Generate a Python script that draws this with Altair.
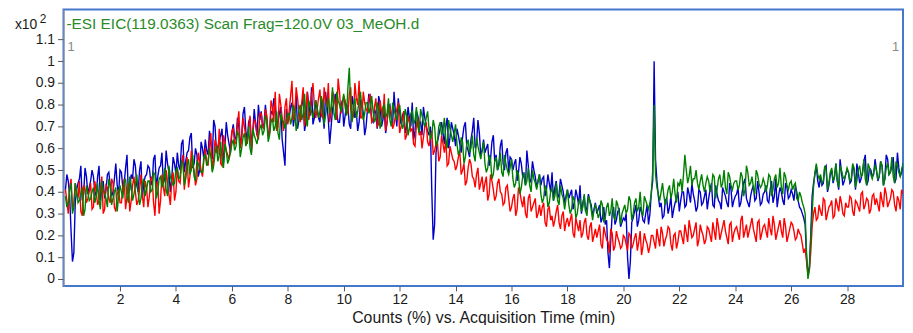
import altair as alt
import pandas as pd

# Values in units of x10^2 counts.
# *_a: one per 0.1 min at 0.1, 0.2, ... 30.0 min
# *_b: one per 0.1 min at 0.05, 0.15, ... 29.95 min
red_a = [
    0.36, 0.42, 0.33, 0.44, 0.37, 0.31, 0.43, 0.35, 0.40, 0.32,
    0.45, 0.34, 0.41, 0.30, 0.43, 0.37, 0.46, 0.33, 0.39, 0.35,
    0.42, 0.32, 0.44, 0.36, 0.47, 0.34, 0.41, 0.38, 0.45, 0.33,
    0.46, 0.35, 0.43, 0.30, 0.48, 0.38, 0.44, 0.34, 0.49, 0.40,
    0.45, 0.53, 0.41, 0.56, 0.47, 0.52, 0.43, 0.58, 0.50, 0.55,
    0.54, 0.62, 0.50, 0.64, 0.57, 0.53, 0.66, 0.59, 0.55, 0.68,
    0.62, 0.71, 0.60, 0.74, 0.65, 0.69, 0.58, 0.73, 0.66, 0.76,
    0.70, 0.78, 0.66, 0.82, 0.72, 0.68, 0.85, 0.74, 0.79, 0.71,
    0.84, 0.73, 0.88, 0.76, 0.81, 0.70, 0.86, 0.77, 0.90, 0.74,
    0.83, 0.75, 0.88, 0.79, 0.72, 0.86, 0.80, 0.92, 0.76, 0.84,
    0.77, 0.85, 0.73, 0.90, 0.80, 0.74, 0.86, 0.78, 0.83, 0.72,
    0.79, 0.70, 0.82, 0.74, 0.68, 0.80, 0.76, 0.71, 0.78, 0.67,
    0.73, 0.64, 0.75, 0.68, 0.62, 0.71, 0.66, 0.60, 0.70, 0.63,
    0.65, 0.57, 0.62, 0.54, 0.66, 0.58, 0.52, 0.61, 0.55, 0.50,
    0.56, 0.48, 0.53, 0.45, 0.55, 0.47, 0.42, 0.51, 0.44, 0.40,
    0.47, 0.39, 0.45, 0.36, 0.44, 0.40, 0.34, 0.42, 0.37, 0.33,
    0.39, 0.32, 0.40, 0.33, 0.30, 0.37, 0.31, 0.35, 0.28, 0.34,
    0.33, 0.26, 0.32, 0.27, 0.24, 0.31, 0.26, 0.29, 0.22, 0.28,
    0.27, 0.21, 0.28, 0.22, 0.19, 0.26, 0.20, 0.24, 0.17, 0.23,
    0.22, 0.16, 0.24, 0.18, 0.12, 0.21, 0.15, 0.19, 0.14, 0.20,
    0.16, 0.21, 0.14, 0.19, 0.13, 0.22, 0.15, 0.18, 0.12, 0.20,
    0.17, 0.23, 0.15, 0.21, 0.18, 0.24, 0.16, 0.20, 0.14, 0.22,
    0.19, 0.25, 0.17, 0.23, 0.20, 0.26, 0.18, 0.22, 0.16, 0.24,
    0.20, 0.26, 0.18, 0.24, 0.21, 0.27, 0.19, 0.25, 0.17, 0.23,
    0.21, 0.27, 0.19, 0.25, 0.22, 0.28, 0.20, 0.26, 0.18, 0.24,
    0.22, 0.28, 0.20, 0.25, 0.21, 0.27, 0.19, 0.24, 0.20, 0.26,
    0.22, 0.19, 0.21, 0.16, 0.14, 0.02, 0.12, 0.30, 0.27, 0.34,
    0.29, 0.36, 0.30, 0.34, 0.28, 0.37, 0.31, 0.35, 0.29, 0.33,
    0.38, 0.31, 0.36, 0.33, 0.39, 0.32, 0.37, 0.30, 0.38, 0.34,
    0.34, 0.40, 0.33, 0.39, 0.35, 0.41, 0.34, 0.38, 0.32, 0.39,
]
red_b = [
    0.41, 0.30, 0.46, 0.34, 0.39, 0.45, 0.29, 0.41, 0.37, 0.44,
    0.33, 0.40, 0.36, 0.47, 0.32, 0.42, 0.35, 0.44, 0.31, 0.41,
    0.35, 0.46, 0.38, 0.31, 0.43, 0.40, 0.36, 0.48, 0.33, 0.42,
    0.38, 0.47, 0.29, 0.45, 0.36, 0.42, 0.50, 0.39, 0.45, 0.36,
    0.51, 0.44, 0.57, 0.48, 0.42, 0.59, 0.50, 0.46, 0.54, 0.47,
    0.60, 0.52, 0.67, 0.55, 0.61, 0.69, 0.52, 0.63, 0.57, 0.61,
    0.69, 0.63, 0.77, 0.64, 0.70, 0.62, 0.75, 0.67, 0.72, 0.64,
    0.76, 0.69, 0.75, 0.67, 0.79, 0.86, 0.70, 0.80, 0.68, 0.83,
    0.77, 0.91, 0.75, 0.83, 0.72, 0.88, 0.79, 0.73, 0.84, 0.80,
    0.78, 0.87, 0.74, 0.82, 0.90, 0.77, 0.84, 0.73, 0.86, 0.79,
    0.82, 0.76, 0.88, 0.75, 0.83, 0.91, 0.74, 0.81, 0.77, 0.85,
    0.73, 0.83, 0.71, 0.77, 0.85, 0.72, 0.79, 0.69, 0.75, 0.81,
    0.70, 0.77, 0.66, 0.72, 0.69, 0.61, 0.74, 0.68, 0.65, 0.72,
    0.61, 0.68, 0.59, 0.63, 0.56, 0.62, 0.64, 0.53, 0.58, 0.54,
    0.52, 0.59, 0.50, 0.43, 0.51, 0.53, 0.46, 0.48, 0.41, 0.47,
    0.44, 0.36, 0.48, 0.41, 0.38, 0.46, 0.39, 0.35, 0.43, 0.31,
    0.37, 0.29, 0.42, 0.36, 0.38, 0.28, 0.39, 0.33, 0.37, 0.30,
    0.29, 0.35, 0.24, 0.33, 0.29, 0.27, 0.34, 0.23, 0.31, 0.26,
    0.24, 0.30, 0.19, 0.25, 0.27, 0.21, 0.28, 0.18, 0.26, 0.20,
    0.19, 0.25, 0.14, 0.21, 0.17, 0.23, 0.13, 0.22, 0.17, 0.15,
    0.19, 0.13, 0.20, 0.16, 0.21, 0.17, 0.11, 0.21, 0.16, 0.15,
    0.20, 0.14, 0.19, 0.24, 0.15, 0.20, 0.23, 0.13, 0.21, 0.17,
    0.22, 0.16, 0.21, 0.27, 0.19, 0.23, 0.15, 0.25, 0.20, 0.18,
    0.23, 0.17, 0.22, 0.28, 0.18, 0.24, 0.22, 0.16, 0.26, 0.21,
    0.24, 0.18, 0.29, 0.22, 0.19, 0.25, 0.23, 0.17, 0.27, 0.21,
    0.25, 0.19, 0.23, 0.29, 0.18, 0.24, 0.22, 0.28, 0.17, 0.23,
    0.25, 0.18, 0.23, 0.20, 0.12, 0.08, 0.04, 0.24, 0.33, 0.28,
    0.31, 0.37, 0.27, 0.33, 0.36, 0.29, 0.34, 0.38, 0.30, 0.35,
    0.33, 0.37, 0.29, 0.35, 0.31, 0.40, 0.34, 0.36, 0.32, 0.39,
    0.37, 0.31, 0.36, 0.42, 0.33, 0.37, 0.40, 0.31, 0.36, 0.41,
]

blue_a = [
    0.48, 0.38, 0.08, 0.35, 0.44, 0.52, 0.39, 0.47, 0.42, 0.50,
    0.40, 0.47, 0.36, 0.45, 0.41, 0.49, 0.38, 0.46, 0.43, 0.50,
    0.42, 0.51, 0.39, 0.48, 0.55, 0.43, 0.50, 0.37, 0.47, 0.52,
    0.45, 0.55, 0.42, 0.51, 0.58, 0.46, 0.53, 0.40, 0.56, 0.48,
    0.52, 0.62, 0.49, 0.58, 0.65, 0.51, 0.60, 0.47, 0.63, 0.55,
    0.59, 0.68, 0.55, 0.70, 0.61, 0.66, 0.53, 0.72, 0.62, 0.67,
    0.65, 0.74, 0.61, 0.76, 0.68, 0.72, 0.60, 0.78, 0.66, 0.73,
    0.70, 0.80, 0.66, 0.77, 0.83, 0.69, 0.76, 0.64, 0.52, 0.72,
    0.79, 0.70, 0.84, 0.73, 0.80, 0.68, 0.86, 0.75, 0.71, 0.82,
    0.74, 0.83, 0.69, 0.80, 0.62, 0.78, 0.85, 0.72, 0.79, 0.70,
    0.80, 0.71, 0.84, 0.74, 0.68, 0.82, 0.76, 0.70, 0.85, 0.73,
    0.78, 0.69, 0.81, 0.73, 0.67, 0.79, 0.74, 0.86, 0.70, 0.77,
    0.75, 0.67, 0.79, 0.70, 0.64, 0.77, 0.71, 0.66, 0.74, 0.68,
    0.70, 0.18, 0.58, 0.66, 0.72, 0.62, 0.74, 0.65, 0.69, 0.61,
    0.66, 0.58, 0.70, 0.61, 0.56, 0.68, 0.60, 0.73, 0.57, 0.64,
    0.60, 0.52, 0.63, 0.54, 0.50, 0.61, 0.53, 0.58, 0.49, 0.55,
    0.53, 0.45, 0.56, 0.47, 0.43, 0.52, 0.46, 0.50, 0.42, 0.48,
    0.46, 0.38, 0.48, 0.40, 0.36, 0.45, 0.39, 0.43, 0.35, 0.41,
    0.39, 0.32, 0.41, 0.34, 0.30, 0.38, 0.33, 0.36, 0.29, 0.35,
    0.32, 0.26, 0.33, 0.27, 0.05, 0.30, 0.25, 0.31, 0.24, 0.28,
    0.30, 0.00, 0.26, 0.31, 0.24, 0.33, 0.27, 0.30, 0.25, 0.40,
    1.00, 0.45, 0.33, 0.28, 0.36, 0.30, 0.38, 0.32, 0.37, 0.31,
    0.40, 0.33, 0.42, 0.35, 0.39, 0.31, 0.41, 0.34, 0.38, 0.32,
    0.41, 0.34, 0.43, 0.36, 0.32, 0.40, 0.35, 0.44, 0.33, 0.38,
    0.42, 0.35, 0.44, 0.37, 0.33, 0.41, 0.36, 0.45, 0.34, 0.39,
    0.43, 0.35, 0.45, 0.38, 0.33, 0.42, 0.36, 0.44, 0.37, 0.41,
    0.36, 0.40, 0.33, 0.30, 0.25, 0.03, 0.20, 0.44, 0.52, 0.42,
    0.43, 0.51, 0.40, 0.48, 0.44, 0.53, 0.41, 0.49, 0.45, 0.50,
    0.44, 0.52, 0.41, 0.49, 0.46, 0.54, 0.43, 0.51, 0.47, 0.55,
    0.45, 0.54, 0.43, 0.57, 0.48, 0.52, 0.44, 0.58, 0.47, 0.53,
]
blue_b = [
    0.41, 0.45, 0.22, 0.12, 0.41, 0.46, 0.36, 0.51, 0.39, 0.45,
    0.47, 0.38, 0.52, 0.42, 0.37, 0.48, 0.43, 0.40, 0.53, 0.39,
    0.49, 0.44, 0.57, 0.41, 0.46, 0.52, 0.40, 0.54, 0.44, 0.48,
    0.51, 0.43, 0.57, 0.47, 0.52, 0.44, 0.59, 0.49, 0.46, 0.53,
    0.58, 0.50, 0.64, 0.54, 0.59, 0.67, 0.53, 0.57, 0.50, 0.60,
    0.64, 0.57, 0.62, 0.73, 0.58, 0.63, 0.69, 0.60, 0.66, 0.58,
    0.71, 0.64, 0.70, 0.66, 0.79, 0.63, 0.74, 0.68, 0.71, 0.80,
    0.77, 0.71, 0.73, 0.68, 0.76, 0.81, 0.72, 0.79, 0.58, 0.78,
    0.74, 0.81, 0.76, 0.69, 0.77, 0.83, 0.72, 0.80, 0.88, 0.74,
    0.78, 0.72, 0.76, 0.86, 0.73, 0.70, 0.81, 0.76, 0.72, 0.82,
    0.75, 0.79, 0.69, 0.80, 0.77, 0.72, 0.81, 0.66, 0.78, 0.80,
    0.72, 0.76, 0.84, 0.70, 0.77, 0.72, 0.80, 0.71, 0.76, 0.83,
    0.71, 0.77, 0.70, 0.74, 0.81, 0.68, 0.75, 0.72, 0.79, 0.70,
    0.66, 0.40, 0.25, 0.63, 0.69, 0.67, 0.70, 0.60, 0.72, 0.66,
    0.69, 0.62, 0.65, 0.72, 0.59, 0.64, 0.74, 0.62, 0.67, 0.59,
    0.58, 0.62, 0.55, 0.66, 0.57, 0.53, 0.64, 0.50, 0.60, 0.56,
    0.50, 0.55, 0.49, 0.53, 0.47, 0.59, 0.44, 0.54, 0.47, 0.45,
    0.43, 0.47, 0.41, 0.44, 0.49, 0.42, 0.37, 0.46, 0.40, 0.38,
    0.37, 0.41, 0.35, 0.38, 0.43, 0.35, 0.31, 0.39, 0.34, 0.32,
    0.30, 0.34, 0.28, 0.25, 0.12, 0.18, 0.33, 0.27, 0.32, 0.26,
    0.27, 0.10, 0.08, 0.28, 0.34, 0.27, 0.31, 0.26, 0.34, 0.30,
    0.45, 0.55, 0.38, 0.35, 0.29, 0.37, 0.33, 0.28, 0.35, 0.40,
    0.36, 0.40, 0.34, 0.39, 0.44, 0.36, 0.33, 0.40, 0.35, 0.41,
    0.37, 0.44, 0.33, 0.39, 0.35, 0.42, 0.38, 0.33, 0.41, 0.36,
    0.39, 0.33, 0.40, 0.46, 0.35, 0.38, 0.43, 0.37, 0.40, 0.35,
    0.40, 0.36, 0.41, 0.35, 0.46, 0.38, 0.40, 0.34, 0.42, 0.38,
    0.39, 0.43, 0.36, 0.32, 0.28, 0.10, 0.05, 0.38, 0.48, 0.45,
    0.47, 0.44, 0.52, 0.43, 0.50, 0.47, 0.45, 0.55, 0.43, 0.48,
    0.49, 0.45, 0.50, 0.53, 0.44, 0.49, 0.57, 0.45, 0.50, 0.48,
    0.50, 0.47, 0.52, 0.46, 0.55, 0.49, 0.56, 0.46, 0.51, 0.49,
]

green_a = [
    0.33, 0.41, 0.30, 0.44, 0.35, 0.39, 0.29, 0.43, 0.36, 0.40,
    0.35, 0.44, 0.32, 0.41, 0.37, 0.46, 0.34, 0.40, 0.31, 0.43,
    0.37, 0.46, 0.35, 0.43, 0.39, 0.48, 0.34, 0.44, 0.38, 0.45,
    0.40, 0.49, 0.37, 0.46, 0.42, 0.51, 0.38, 0.47, 0.43, 0.50,
    0.46, 0.54, 0.43, 0.52, 0.48, 0.57, 0.45, 0.53, 0.49, 0.56,
    0.52, 0.60, 0.49, 0.58, 0.54, 0.63, 0.51, 0.59, 0.55, 0.62,
    0.59, 0.68, 0.56, 0.65, 0.61, 0.70, 0.57, 0.66, 0.62, 0.69,
    0.66, 0.75, 0.63, 0.72, 0.68, 0.77, 0.64, 0.73, 0.69, 0.76,
    0.71, 0.80, 0.68, 0.78, 0.73, 0.85, 0.70, 0.79, 0.74, 0.82,
    0.74, 0.84, 0.71, 0.80, 0.76, 0.88, 0.73, 0.82, 0.77, 0.85,
    0.75, 0.97, 0.72, 0.83, 0.77, 0.86, 0.73, 0.81, 0.76, 0.84,
    0.72, 0.81, 0.69, 0.79, 0.74, 0.83, 0.70, 0.78, 0.73, 0.80,
    0.69, 0.78, 0.66, 0.76, 0.71, 0.79, 0.67, 0.75, 0.70, 0.77,
    0.64, 0.73, 0.61, 0.70, 0.66, 0.74, 0.60, 0.69, 0.63, 0.71,
    0.57, 0.65, 0.53, 0.62, 0.58, 0.66, 0.54, 0.61, 0.55, 0.63,
    0.49, 0.57, 0.46, 0.54, 0.50, 0.58, 0.47, 0.53, 0.48, 0.55,
    0.42, 0.50, 0.39, 0.47, 0.43, 0.51, 0.40, 0.46, 0.41, 0.48,
    0.35, 0.43, 0.33, 0.40, 0.36, 0.44, 0.34, 0.39, 0.32, 0.41,
    0.30, 0.38, 0.28, 0.35, 0.31, 0.39, 0.29, 0.36, 0.27, 0.34,
    0.28, 0.36, 0.26, 0.33, 0.29, 0.37, 0.27, 0.34, 0.25, 0.32,
    0.30, 0.38, 0.27, 0.35, 0.31, 0.40, 0.29, 0.36, 0.32, 0.39,
    0.80, 0.42, 0.36, 0.44, 0.34, 0.41, 0.37, 0.46, 0.35, 0.43,
    0.40, 0.57, 0.44, 0.52, 0.46, 0.50, 0.41, 0.48, 0.40, 0.47,
    0.40, 0.48, 0.37, 0.46, 0.42, 0.50, 0.39, 0.47, 0.41, 0.45,
    0.41, 0.49, 0.38, 0.52, 0.43, 0.47, 0.39, 0.48, 0.42, 0.46,
    0.40, 0.48, 0.38, 0.46, 0.42, 0.51, 0.39, 0.47, 0.41, 0.45,
    0.43, 0.37, 0.40, 0.35, 0.30, 0.00, 0.18, 0.42, 0.53, 0.46,
    0.44, 0.52, 0.41, 0.49, 0.45, 0.53, 0.42, 0.50, 0.46, 0.51,
    0.45, 0.53, 0.42, 0.50, 0.47, 0.55, 0.43, 0.51, 0.46, 0.52,
    0.46, 0.54, 0.43, 0.51, 0.48, 0.56, 0.44, 0.52, 0.47, 0.53,
]
green_b = [
    0.38, 0.35, 0.44, 0.33, 0.41, 0.36, 0.42, 0.32, 0.40, 0.37,
    0.42, 0.38, 0.36, 0.45, 0.39, 0.33, 0.43, 0.37, 0.42, 0.38,
    0.40, 0.44, 0.38, 0.47, 0.36, 0.43, 0.40, 0.37, 0.46, 0.41,
    0.45, 0.41, 0.48, 0.40, 0.47, 0.44, 0.41, 0.52, 0.45, 0.44,
    0.51, 0.47, 0.53, 0.46, 0.55, 0.50, 0.47, 0.54, 0.51, 0.49,
    0.57, 0.54, 0.56, 0.52, 0.61, 0.57, 0.55, 0.62, 0.53, 0.58,
    0.64, 0.61, 0.66, 0.60, 0.67, 0.63, 0.60, 0.69, 0.64, 0.66,
    0.71, 0.68, 0.73, 0.66, 0.74, 0.70, 0.67, 0.76, 0.72, 0.73,
    0.76, 0.74, 0.77, 0.72, 0.80, 0.76, 0.73, 0.82, 0.77, 0.78,
    0.79, 0.77, 0.81, 0.75, 0.83, 0.79, 0.76, 0.86, 0.80, 0.81,
    0.79, 0.88, 0.78, 0.80, 0.74, 0.82, 0.78, 0.76, 0.81, 0.79,
    0.77, 0.74, 0.78, 0.72, 0.80, 0.76, 0.73, 0.81, 0.75, 0.77,
    0.74, 0.71, 0.75, 0.69, 0.77, 0.73, 0.70, 0.78, 0.72, 0.74,
    0.69, 0.66, 0.70, 0.63, 0.72, 0.68, 0.64, 0.73, 0.66, 0.67,
    0.62, 0.59, 0.63, 0.56, 0.64, 0.60, 0.57, 0.65, 0.58, 0.59,
    0.53, 0.51, 0.55, 0.48, 0.56, 0.52, 0.49, 0.57, 0.50, 0.51,
    0.46, 0.44, 0.48, 0.42, 0.49, 0.45, 0.43, 0.50, 0.44, 0.45,
    0.39, 0.37, 0.41, 0.35, 0.42, 0.38, 0.36, 0.43, 0.37, 0.37,
    0.34, 0.32, 0.36, 0.30, 0.37, 0.33, 0.31, 0.38, 0.32, 0.32,
    0.32, 0.30, 0.34, 0.28, 0.35, 0.31, 0.29, 0.36, 0.30, 0.30,
    0.34, 0.32, 0.36, 0.30, 0.37, 0.33, 0.31, 0.38, 0.34, 0.35,
    0.50, 0.48, 0.39, 0.40, 0.38, 0.37, 0.43, 0.40, 0.39, 0.44,
    0.46, 0.48, 0.50, 0.47, 0.43, 0.46, 0.44, 0.45, 0.43, 0.44,
    0.45, 0.42, 0.47, 0.41, 0.48, 0.44, 0.42, 0.49, 0.43, 0.44,
    0.45, 0.43, 0.47, 0.41, 0.49, 0.44, 0.42, 0.50, 0.44, 0.43,
    0.44, 0.43, 0.47, 0.41, 0.48, 0.44, 0.42, 0.49, 0.43, 0.44,
    0.41, 0.44, 0.36, 0.38, 0.33, 0.12, 0.04, 0.30, 0.49, 0.48,
    0.48, 0.45, 0.50, 0.44, 0.51, 0.47, 0.45, 0.52, 0.47, 0.48,
    0.49, 0.46, 0.51, 0.45, 0.52, 0.48, 0.46, 0.53, 0.48, 0.49,
    0.50, 0.47, 0.52, 0.46, 0.53, 0.49, 0.47, 0.54, 0.49, 0.50,
]

times_a = [round(0.1 * (i + 1), 2) for i in range(len(red_a))]
times_b = [round(0.1 * i + 0.05, 2) for i in range(len(red_b))]

Y_TICKS = [0, 0.1, 0.2, 0.3, 0.4, 0.5, 0.6, 0.7, 0.8, 0.9, 1.0, 1.1]
X_TICKS = [2, 4, 6, 8, 10, 12, 14, 16, 18, 20, 22, 24, 26, 28]
TITLE = "-ESI EIC(119.0363) Scan Frag=120.0V 03_MeOH.d"
X_TITLE = "Counts (%) vs. Acquisition Time (min)"

FONT = "Liberation Sans"

xscale = alt.Scale(domain=[-0.02, 30.0], nice=False, zero=False)
yscale = alt.Scale(domain=[-0.032, 1.238], nice=False, zero=False)


def trace(vals_a, vals_b, color):
    df = pd.DataFrame(
        {"t": times_a + times_b, "v": vals_a + vals_b}
    ).sort_values("t")
    return alt.Chart(df).mark_line(color=color, strokeWidth=1.4, clip=True).encode(
        x=alt.X(
            "t:Q",
            scale=xscale,
            sort=None,
            axis=alt.Axis(
                values=X_TICKS,
                title=X_TITLE,
                domain=False,
                tickSize=5,
                tickColor="#555555",
                labelPadding=2,
                titlePadding=3,
                titleFontSize=16,
                titleFontWeight="normal",
                titleFont=FONT,
                titleColor="#1a1a1a",
            ),
        ),
        y=alt.Y(
            "v:Q",
            scale=yscale,
            axis=alt.Axis(
                values=Y_TICKS,
                format="~g",
                title=None,
                domain=True,
                domainColor="#999999",
                tickSize=6,
                tickColor="#555555",
                labelPadding=3,
            ),
        ),
    )


layers = [
    trace(blue_a, blue_b, "#0000c8"),
    trace(red_a, red_b, "#ff0000"),
    trace(green_a, green_b, "#008000"),
]

title_df = pd.DataFrame({"label": [TITLE]})
title = alt.Chart(title_df).mark_text(
    align="left", baseline="middle", font=FONT, fontSize=15.5, color="#2a8a2a"
).encode(x=alt.value(3), y=alt.value(15), text="label:N")

x10_df = pd.DataFrame({"label": ["x10"]})
x10 = alt.Chart(x10_df).mark_text(
    align="left", baseline="middle", font=FONT, fontSize=14, color="#1a1a1a"
).encode(x=alt.value(-49), y=alt.value(16), text="label:N")

exp_df = pd.DataFrame({"label": ["2"]})
exp = alt.Chart(exp_df).mark_text(
    align="left", baseline="middle", font=FONT, fontSize=12, color="#1a1a1a"
).encode(x=alt.value(-24), y=alt.value(10), text="label:N")

one_df = pd.DataFrame({"label": ["1"]})
one_l = alt.Chart(one_df).mark_text(
    align="left", baseline="middle", font=FONT, fontSize=13, color="#888888"
).encode(x=alt.value(4), y=alt.value(38), text="label:N")
one_r = alt.Chart(one_df).mark_text(
    align="right", baseline="middle", font=FONT, fontSize=13, color="#888888"
).encode(x=alt.value(843), y=alt.value(38), text="label:N")

chart = (
    alt.layer(*layers, title, x10, exp, one_l, one_r)
    .properties(
        width=847,
        height=279,
        autosize=alt.AutoSizeParams(type="none"),
        padding={"left": 56, "top": 0, "right": 2, "bottom": 38},
    )
    .configure_view(stroke="#4577cc", strokeWidth=2)
    .configure_axis(
        grid=False,
        labelFont=FONT,
        labelFontSize=14,
        labelColor="#1a1a1a",
    )
)

chart.save("out.html", embed_options={"renderer": "svg", "actions": False})
